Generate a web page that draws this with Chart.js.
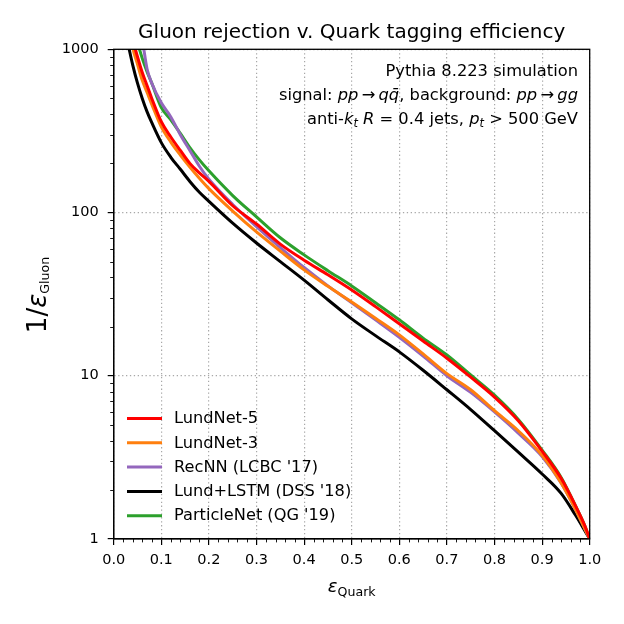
<!DOCTYPE html>
<html><head><meta charset="utf-8">
<script src="https://cdn.jsdelivr.net/npm/chart.js@4.4.0/dist/chart.umd.min.js"></script>
<style>html,body{margin:0;padding:0;background:#fff;}#wrap{width:624px;height:624px;}</style>
</head><body><div id="wrap"><canvas id="c" width="624" height="624"></canvas></div>
<script>
// ---- data ----
const effQuark = [0.03,0.04,0.05,0.06,0.07,0.08,0.10,0.12,0.14,0.16,0.18,0.20,0.25,0.30,0.35,0.40,0.45,0.50,0.55,0.60,0.65,0.70,0.75,0.80,0.85,0.90,0.94,0.97,0.99,1.00];
const lundNet5   = [1600,1150,900,720,600,500,360,290,240,200,175,155,110,85,64,51,41.5,33.5,26.5,20.8,16.3,12.8,9.8,7.4,5.3,3.45,2.35,1.6,1.2,1];
const lundNet3   = [1500,1020,810,645,545,460,335,270,225,190,162,140,102,76,58,44.5,35.3,28.3,22.5,17.8,13.6,10.3,8.2,6.1,4.6,3.25,2.2,1.52,1.15,1];
const recNN      = [3000,2200,1600,1150,760,620,470,385,300,240,192,160,112,82,61,46,35.5,28,22,17.2,13.2,10,7.9,6.0,4.45,3.2,2.2,1.52,1.15,1];
const lundLSTM   = [1080,800,620,500,415,355,268,218,184,155,133,117,86,65,50,38.5,29.2,22.3,17.6,14,10.8,8.2,6.2,4.6,3.4,2.5,1.9,1.4,1.12,1];
const particleNet= [2000,1400,1100,880,730,620,440,370,305,250,210,180,127,94,70,55,44,35.5,28,22,17,13.4,10.1,7.6,5.4,3.5,2.38,1.6,1.2,1];
const seriesLabels = ["LundNet-5","LundNet-3","RecNN (LCBC '17)","Lund+LSTM (DSS '18)","ParticleNet (QG '19)"];
const seriesColors = ["#ff0000","#ff7f0e","#9467bd","#000000","#2ca02c"];
const seriesValues = [lundNet5, lundNet3, recNN, lundLSTM, particleNet];
const yTickValues = [1,10,100,1000];
const xTickStep = 0.1;

const FONT = '"DejaVu Sans", "Liberation Sans", sans-serif';

// runs: [text, italic, size, dy]
function drawRuns(ctx, runs, x, y, align) {
  const fontOf = r => (r[1] ? 'italic ' : '') + r[2] + 'px ' + FONT;
  let total = 0;
  runs.forEach(r => { ctx.font = fontOf(r); r.w = ctx.measureText(r[0]).width; total += r.w; });
  let cx = align === 'right' ? x - total : (align === 'center' ? x - total / 2 : x);
  ctx.textAlign = 'left';
  ctx.textBaseline = 'alphabetic';
  runs.forEach(r => {
    ctx.font = fontOf(r);
    ctx.fillText(r[0], cx, y + (r[3] || 0));
    cx += r.w;
  });
}

const decor = {
  id: 'decor',
  afterDraw(chart) {
    const ctx = chart.ctx, a = chart.chartArea, xs = chart.scales.x, ys = chart.scales.y;
    ctx.save();
    ctx.fillStyle = '#000';
    ctx.strokeStyle = '#000';
    // minor ticks
    ctx.lineWidth = 0.9;
    ctx.beginPath();
    for (let i = 1; i < 50; i++) {
      if (i % 5 === 0) continue;
      const px = Math.round(xs.getPixelForValue(i * 0.02)) + 0.5;
      ctx.moveTo(px, a.bottom); ctx.lineTo(px, a.bottom + 3.5);
    }
    for (let d = 1; d < 1000; d *= 10) {
      for (let k = 2; k <= 9; k++) {
        const py = Math.round(ys.getPixelForValue(d * k)) + 0.5;
        ctx.moveTo(a.left, py); ctx.lineTo(a.left - 3.5, py);
      }
    }
    ctx.stroke();
    // frame
    ctx.lineWidth = 1.3;
    ctx.strokeRect(a.left, a.top, a.right - a.left, a.bottom - a.top);
    // title
    ctx.font = '20px ' + FONT;
    ctx.textAlign = 'center'; ctx.textBaseline = 'alphabetic';
    ctx.fillText('Gluon rejection v. Quark tagging efficiency', (a.left + a.right) / 2, 38);
    // x label
    drawRuns(ctx, [['\u03b5', true, 18, 0], ['Quark', false, 12.6, 3.6]], (a.left + a.right) / 2, 592, 'center');
    // y label
    ctx.save();
    ctx.translate(45.5, 295);
    ctx.rotate(-Math.PI / 2);
    drawRuns(ctx, [['1/', false, 26, 0], ['\u03b5', true, 26, 0], ['Gluon', false, 12.6, 3]], 0, 0, 'center');
    ctx.restore();
    // annotation
    const ax = 578, fs = 16.3, sub = 11.4;
    drawRuns(ctx, [['Pythia 8.223 simulation', false, fs]], ax, 75.5, 'right');
    drawRuns(ctx, [['signal: ', false, fs], ['pp', true, fs], ['\u2009\u2192\u2009', false, fs], ['q', true, fs], ['q\u0304', true, fs], [', background: ', false, fs], ['pp', true, fs], ['\u2009\u2192\u2009', false, fs], ['gg', true, fs]], ax, 99.5, 'right');
    drawRuns(ctx, [['anti-', false, fs], ['k', true, fs], ['t', true, sub, 3], [' ', false, fs], ['R', true, fs], [' = 0.4 jets, ', false, fs], ['p', true, fs], ['t', true, sub, 3], [' > 500 GeV', false, fs]], ax, 123.5, 'right');
    // legend
    chart.data.datasets.forEach((ds, i) => {
      const cy = 418.5 + i * 24.3;
      ctx.strokeStyle = ds.borderColor; ctx.lineWidth = 3;
      ctx.beginPath(); ctx.moveTo(127, cy); ctx.lineTo(162, cy); ctx.stroke();
      ctx.fillStyle = '#000';
      ctx.font = '16.2px ' + FONT; ctx.textAlign = 'left'; ctx.textBaseline = 'middle';
      ctx.fillText(ds.label, 174, cy + 0.5);
    });
    ctx.restore();
  }
};

const datasets = seriesValues.map((vals, i) => ({
  label: seriesLabels[i],
  data: effQuark.map((x, j) => ({ x: x, y: vals[j] })),
  borderColor: seriesColors[i],
  backgroundColor: seriesColors[i],
  borderWidth: 3,
  pointRadius: 0,
  fill: false,
  cubicInterpolationMode: 'monotone'
}));

new Chart(document.getElementById('c'), {
  type: 'line',
  data: { datasets: datasets },
  options: {
    responsive: false,
    animation: false,
    devicePixelRatio: 1,
    layout: { padding: { left: 0, right: 34.3, top: 49.3, bottom: 0 } },
    plugins: { legend: { display: false }, title: { display: false }, tooltip: { enabled: false } },
    scales: {
      x: {
        type: 'linear', min: 0, max: 1,
        afterFit: s => { s.height = 85.1; },
        ticks: { stepSize: xTickStep, callback: v => Number(v).toFixed(1), color: '#000', font: { family: FONT, size: 14.5 }, padding: 7, maxRotation: 0, autoSkip: false },
        grid: { color: '#a8a8a8', lineWidth: 1.2, drawTicks: true, tickLength: 6, tickColor: '#000', tickWidth: 1.2 },
        border: { display: true, color: '#000', width: 1.3, dash: [1.3, 2.6] }
      },
      y: {
        type: 'logarithmic', min: 1, max: 1000,
        afterFit: s => { s.width = 113.7; },
        afterBuildTicks: s => { s.ticks = yTickValues.map(v => ({ value: v, major: true })); },
        ticks: { callback: v => String(v), color: '#000', font: { family: FONT, size: 14.5 }, padding: 9, autoSkip: false },
        grid: { color: '#a8a8a8', lineWidth: 1.2, drawTicks: true, tickLength: 6, tickColor: '#000', tickWidth: 1.2 },
        border: { display: true, color: '#000', width: 1.3, dash: [1.3, 2.6] }
      }
    }
  },
  plugins: [decor]
});
</script></body></html>
